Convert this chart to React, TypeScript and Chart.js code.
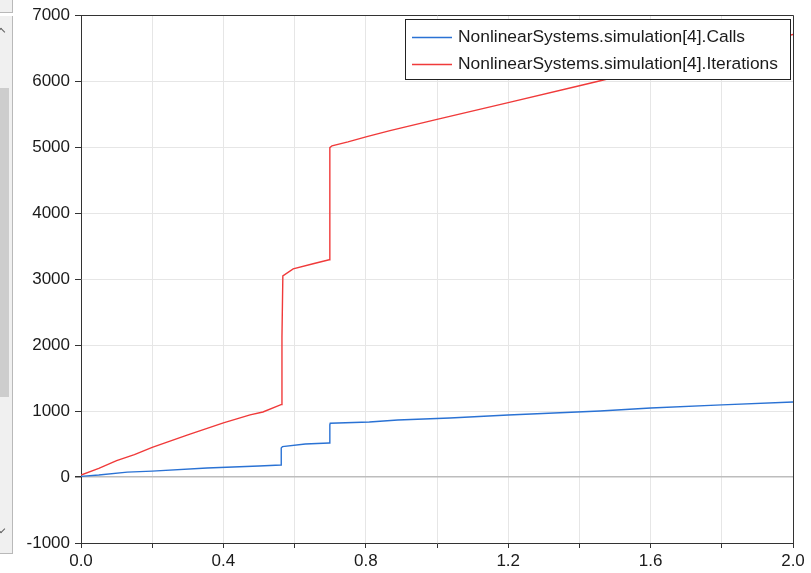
import React, { useEffect, useRef } from 'react';
import { Chart, registerables } from 'chart.js';

Chart.register(...registerables);

// ---- data ----
const seriesLabels = [
  'NonlinearSystems.simulation[4].Calls',
  'NonlinearSystems.simulation[4].Iterations',
];
const seriesColors = ['#2a72d4', '#f03a3a'];

const callsX = [0, 0.05, 0.13, 0.2, 0.354, 0.5, 0.562, 0.5625, 0.566, 0.63, 0.697, 0.699, 0.7, 0.81, 0.89, 1.036, 1.2, 1.458, 1.6, 1.8, 2.0];
const callsY = [10, 30, 75, 90, 136, 167, 182, 440, 462, 500, 516, 790, 815, 835, 865, 895, 940, 1001, 1047, 1093, 1138];

const iterX = [0, 0.05, 0.1, 0.15, 0.2, 0.258, 0.3, 0.35, 0.4, 0.475, 0.511, 0.5635, 0.5645, 0.567, 0.596, 0.652, 0.697, 0.699, 0.705, 0.75, 0.803, 0.868, 1.0, 1.2, 1.4, 1.45, 1.6, 1.8, 2.0];
const iterY = [30, 130, 250, 340, 450, 560, 640, 730, 820, 941, 986, 1100, 2124, 3050, 3156, 3232, 3293, 4992, 5020, 5080, 5160, 5250, 5420, 5675, 5930, 5995, 6190, 6450, 6707];

const xMin = 0;
const xMax = 2;
const xStep = 0.2;
const xLabelEvery = 0.4;
const yMin = -1000;
const yMax = 7000;
const yStep = 1000;

const FONT = "'Liberation Sans', Arial, sans-serif";

const frameAndLegend = {
  id: 'frameAndLegend',
  afterDatasetsDraw(chart: any) {
    const { ctx, chartArea } = chart;
    const { left, top, right, bottom } = chartArea;
    ctx.save();
    // frame (top & right)
    ctx.strokeStyle = '#333333';
    ctx.lineWidth = 1;
    ctx.beginPath();
    ctx.moveTo(Math.round(left) + 0.5, Math.round(top) + 0.5);
    ctx.lineTo(Math.round(right) + 0.5, Math.round(top) + 0.5);
    ctx.lineTo(Math.round(right) + 0.5, Math.round(bottom) + 0.5);
    ctx.stroke();

    // legend box
    ctx.font = `17.4px ${FONT}`;
    const datasets = chart.data.datasets;
    let maxW = 0;
    datasets.forEach((d: any) => {
      maxW = Math.max(maxW, ctx.measureText(d.label).width);
    });
    const boxW = Math.round(53 + maxW + 12);
    const boxH = 60;
    const bx = Math.round(right) - 3 - boxW;
    const by = Math.round(top) + 4;
    ctx.fillStyle = '#ffffff';
    ctx.fillRect(bx, by, boxW, boxH);
    ctx.strokeStyle = '#222222';
    ctx.strokeRect(bx + 0.5, by + 0.5, boxW, boxH);
    ctx.textBaseline = 'middle';
    ctx.textAlign = 'left';
    datasets.forEach((d: any, i: number) => {
      const cy = by + 18 + i * 27;
      ctx.strokeStyle = d.borderColor;
      ctx.lineWidth = 1.4;
      ctx.beginPath();
      ctx.moveTo(bx + 7, cy + 0.5);
      ctx.lineTo(bx + 47, cy + 0.5);
      ctx.stroke();
      ctx.fillStyle = '#1b1b1b';
      ctx.fillText(d.label, bx + 53, cy);
    });
    ctx.restore();
  },
};

function ScrollPanel() {
  const border = '#b9b9b9';
  return (
    <>
      <div style={{ position: 'absolute', left: 0, top: 0, width: 12, height: 12, background: '#f0f0f0', borderRight: `1px solid ${border}`, borderBottom: `1px solid ${border}` }} />
      <div style={{ position: 'absolute', left: 0, top: 16, width: 12, height: 537, background: '#f0f0f0', borderRight: `1px solid ${border}`, borderBottom: `1px solid ${border}` }} />
      <div style={{ position: 'absolute', left: 0, top: 88, width: 9, height: 309, background: '#cdcdcd' }} />
      <div style={{ position: 'absolute', left: -2, top: 29, width: 5, height: 5, borderTop: '1.5px solid #606060', borderLeft: '1.5px solid #606060', transform: 'rotate(45deg)' }} />
      <div style={{ position: 'absolute', left: -2, top: 526, width: 5, height: 5, borderBottom: '1.5px solid #606060', borderRight: '1.5px solid #606060', transform: 'rotate(45deg)' }} />
    </>
  );
}

export default function App() {
  const canvasRef = useRef<HTMLCanvasElement | null>(null);

  useEffect(() => {
    if (!canvasRef.current) return;
    const calls = callsX.map((x, i) => ({ x, y: callsY[i] }));
    const iters = iterX.map((x, i) => ({ x, y: iterY[i] }));
    const chart = new Chart(canvasRef.current, {
      type: 'line',
      data: {
        datasets: [
          { label: seriesLabels[0], data: calls, borderColor: seriesColors[0], borderWidth: 1.4, pointRadius: 0, tension: 0, fill: false },
          { label: seriesLabels[1], data: iters, borderColor: seriesColors[1], borderWidth: 1.4, pointRadius: 0, tension: 0, fill: false },
        ],
      },
      options: {
        animation: false,
        responsive: false,
        maintainAspectRatio: false,
        devicePixelRatio: 1,
        events: [],
        layout: { padding: { top: 15, right: 18, left: 0, bottom: 0 } },
        plugins: { legend: { display: false }, tooltip: { enabled: false } },
        scales: {
          x: {
            type: 'linear',
            min: xMin,
            max: xMax,
            afterFit: (s: any) => { s.height = 30; },
            ticks: {
              stepSize: xStep,
              autoSkip: false,
              maxRotation: 0,
              padding: 3,
              color: '#1b1b1b',
              font: { family: FONT, size: 17 },
              callback: (v: any) => {
                const n = Number(v);
                const k = Math.round(n / xLabelEvery * 1000) / 1000;
                return Number.isInteger(k) ? n.toFixed(1) : '';
              },
            },
            grid: { color: '#e6e6e6', tickColor: '#333333', tickLength: 5, lineWidth: 1 },
            border: { color: '#333333', width: 1 },
          },
          y: {
            type: 'linear',
            min: yMin,
            max: yMax,
            afterFit: (s: any) => { s.width = 81; },
            ticks: {
              stepSize: yStep,
              padding: 5,
              color: '#1b1b1b',
              font: { family: FONT, size: 17 },
              callback: (v: any) => String(v),
            },
            grid: {
              color: (c: any) => (c.tick && c.tick.value === 0 ? '#bdbdbd' : '#e6e6e6'),
              lineWidth: (c: any) => (c.tick && c.tick.value === 0 ? 1.5 : 1),
              tickColor: '#333333',
              tickLength: 6,
            },
            border: { color: '#333333', width: 1 },
          },
        },
      },
      plugins: [frameAndLegend],
    });
    return () => chart.destroy();
  }, []);

  return (
    <div style={{ position: 'fixed', left: 0, top: 0, width: 811, height: 573, background: '#ffffff', overflow: 'hidden' }}>
      <ScrollPanel />
      <canvas ref={canvasRef} width={811} height={573} style={{ position: 'absolute', left: 0, top: 0, width: 811, height: 573 }} />
    </div>
  );
}
